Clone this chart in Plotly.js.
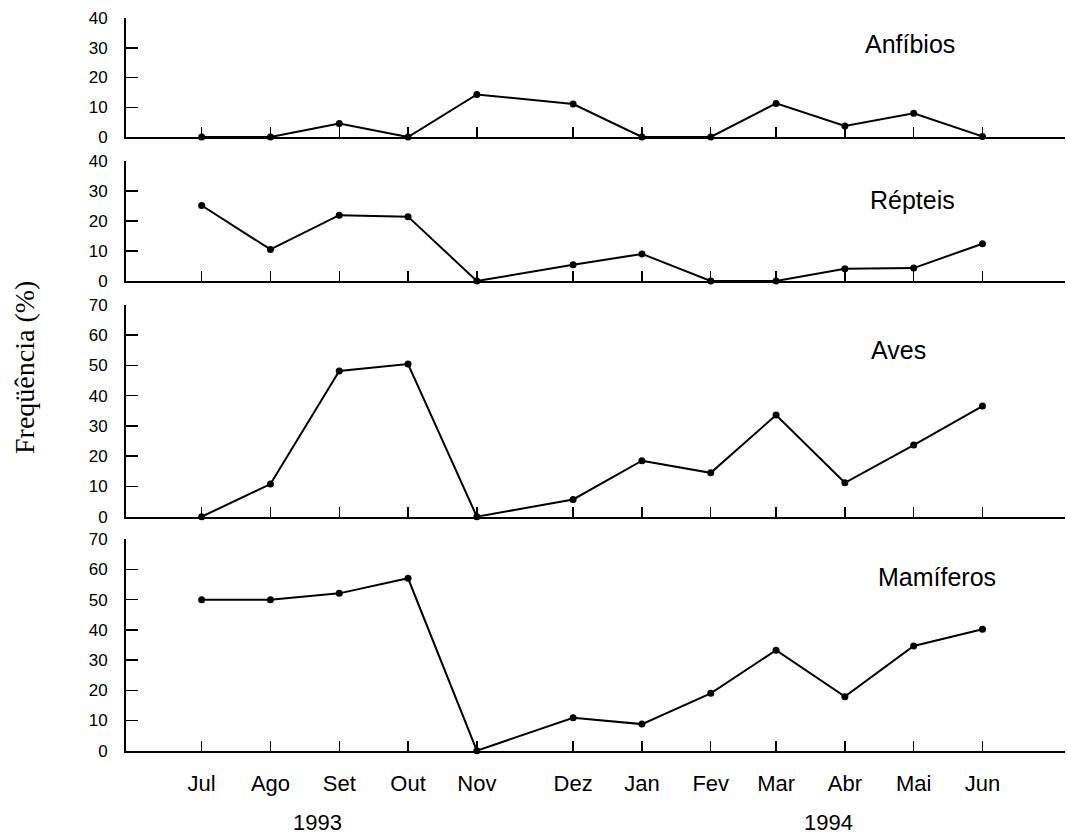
<!DOCTYPE html>
<html>
<head>
<meta charset="utf-8">
<script src="https://cdn.plot.ly/plotly-3.0.1.min.js"></script>
<style>html,body{margin:0;padding:0;background:#fff;}#chart{width:1067px;height:837px;}</style>
</head>
<body>
<div id="chart"></div>
<script>
// Month labels and sampling time (months since Jul 1993, read from point positions)
const months = ['Jul','Ago','Set','Out','Nov','Dez','Jan','Fev','Mar','Abr','Mai','Jun'];
const sampleTime = [0, 1, 2, 3, 4, 5.4, 6.4, 7.4, 8.35, 9.35, 10.35, 11.35];
const groupNames = ['Anfíbios', 'Répteis', 'Aves', 'Mamíferos'];
const anfibios = [0, 0, 4.5, 0, 14.3, 11.1, 0, 0, 11.3, 3.7, 8.0, 0.2];
const repteis = [25.1, 10.5, 21.9, 21.4, 0, 5.4, 9.0, 0, 0, 4.1, 4.3, 12.4];
const aves = [0, 10.8, 48.2, 50.5, 0, 5.7, 18.5, 14.5, 33.6, 11.2, 23.7, 36.6];
const mamiferos = [50, 50, 52.1, 57.1, 0, 10.9, 8.8, 19.0, 33.3, 17.9, 34.7, 40.2];
const yMax = [40, 40, 70, 70];
const yearLabels = ['1993', '1994'];
const yTitle = 'Freqüência (%)';

const series = [anfibios, repteis, aves, mamiferos];
const sans = 'Liberation Sans, Arial, sans-serif';
const W = 1067, H = 837, L = 126, R = 2;
const pw = W - L - R;
// panel pixel extents (top, bottom)
const panels = [[18, 137], [160.7, 281], [305, 516.7], [539.3, 750.7]];

const traces = series.map((ys, i) => ({
  x: sampleTime, y: ys, type: 'scatter', mode: 'lines+markers',
  xaxis: i === 0 ? 'x' : 'x' + (i + 1), yaxis: i === 0 ? 'y' : 'y' + (i + 1),
  line: {color: '#000', width: 2},
  marker: {color: '#000', size: 7},
  cliponaxis: false, showlegend: false, hoverinfo: 'skip'
}));

const layout = {
  width: W, height: H,
  margin: {l: L, r: R, t: 0, b: 0},
  paper_bgcolor: '#fff', plot_bgcolor: '#fff',
  showlegend: false,
  font: {family: sans, color: '#000'},
  annotations: []
};

panels.forEach((p, i) => {
  const sfx = i === 0 ? '' : String(i + 1);
  const last = i === panels.length - 1;
  layout['xaxis' + sfx] = {
    anchor: 'y' + sfx, domain: [0, 1], range: [-1.1, 12.55],
    showgrid: false, zeroline: false, showline: true, linecolor: '#000', linewidth: 2,
    tickmode: 'array', tickvals: sampleTime, ticktext: months,
    ticks: 'inside', ticklen: 10, tickwidth: 1.5, tickcolor: '#000',
    showticklabels: last, tickfont: {family: sans, size: 22, color: '#000'},
    ticklabelstandoff: 12, fixedrange: true
  };
  const step = 10;
  const tv = [];
  for (let v = 0; v <= yMax[i]; v += step) tv.push(v);
  layout['yaxis' + sfx] = {
    anchor: 'x' + sfx, domain: [1 - p[1] / H, 1 - p[0] / H], range: [0, yMax[i]],
    showgrid: false, zeroline: false, showline: true, linecolor: '#000', linewidth: 2,
    tickmode: 'array', tickvals: tv,
    ticks: 'inside', ticklen: 12, tickwidth: 1.5, tickcolor: '#000',
    tickfont: {family: sans, size: 17, color: '#000'},
    ticklabelstandoff: 13, fixedrange: true
  };
});

const labelPos = [[910, 44], [912, 200], [898, 350], [937, 577]];
groupNames.forEach((n, i) => {
  layout.annotations.push({
    text: n, xref: 'paper', yref: 'paper',
    x: (labelPos[i][0] - L) / pw, y: 1 - labelPos[i][1] / H,
    xanchor: 'center', yanchor: 'middle', showarrow: false,
    font: {family: sans, size: 25, color: '#000'}
  });
});
const yearPos = [[317, 822], [828, 822]];
yearLabels.forEach((t, i) => {
  layout.annotations.push({
    text: t, xref: 'paper', yref: 'paper',
    x: (yearPos[i][0] - L) / pw, y: 1 - yearPos[i][1] / H,
    xanchor: 'center', yanchor: 'middle', showarrow: false,
    font: {family: sans, size: 22, color: '#000'}
  });
});
layout.annotations.push({
  text: yTitle, xref: 'paper', yref: 'paper',
  x: (24 - L) / pw, y: 1 - 368 / H, textangle: -90,
  xanchor: 'center', yanchor: 'middle', showarrow: false,
  font: {family: 'Liberation Serif, Times New Roman, serif', size: 28, color: '#000'}
});

Plotly.newPlot('chart', traces, layout, {displayModeBar: false, staticPlot: true});
</script>
</body>
</html>
